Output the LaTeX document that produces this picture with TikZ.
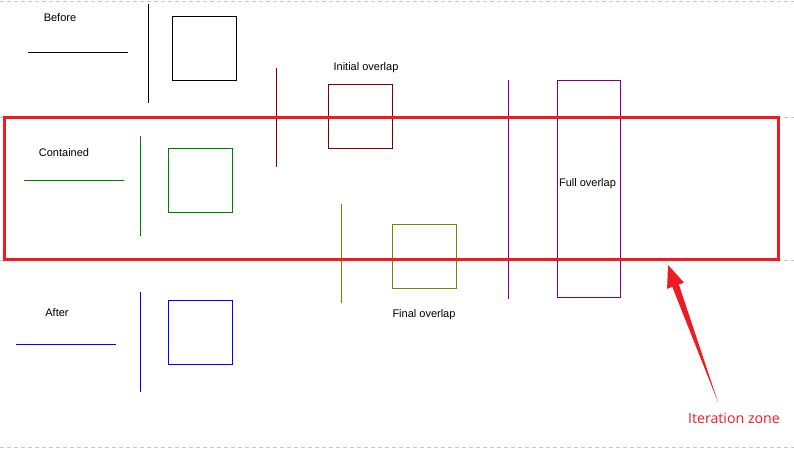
\documentclass[tikz,border=0pt]{standalone}
\usepackage{fontspec}
\setmainfont{Liberation Sans}
\newfontfamily\notefont{Open Sans}
\usetikzlibrary{calc}
\definecolor{zonered}{RGB}{237,28,36}
\definecolor{darkred}{RGB}{128,0,0}
\definecolor{darkgreen}{RGB}{0,128,0}
\definecolor{olivec}{RGB}{128,128,0}
\definecolor{purplec}{RGB}{128,0,128}
\tikzset{
caption/.style={inner sep=0pt,font=\fontsize{11}{13}\selectfont},
rangebox/.style={draw,inner sep=0pt,minimum width=64pt,minimum height=64pt},
guide/.style={draw=black!22,dash pattern=on 4pt off 3pt,line width=1pt},
zonebox/.style={draw=zonered,line width=3pt,inner sep=0pt,minimum width=774pt,minimum height=142pt}
}
\begin{document}
\begin{tikzpicture}[x=1pt,y=-1pt,line width=1pt]
\useasboundingbox (0,0) rectangle (794,448);
% guide lines
\foreach \gy in {1,117,260,447} \draw[guide] (0,\gy) -- (794,\gy);
% before
\node[caption] (lbefore) at (60,18) {Before};
\draw (28,52) -- (128,52);
\draw (148,4) -- (148,103);
\node[rangebox] (before) at (204.5,48) {};
% initial overlap
\node[caption] (linitial) at (366,68) {Initial overlap};
\draw[darkred] (276,68) -- (276,167);
\node[rangebox,draw=darkred] (initial) at (360,116) {};
% contained
\node[caption] (lcontained) at (64,153) {Contained};
\draw[darkgreen] (24,180) -- (124,180);
\draw[darkgreen] (140,136) -- (140,236);
\node[rangebox,draw=darkgreen] (contained) at (200,180) {};
% final overlap
\draw[olivec] (341,204) -- (341,303);
\node[rangebox,draw=olivec] (final) at (424,256) {};
\node[caption] (lfinal) at (424,315) {Final overlap};
% after
\node[caption] (lafter) at (57,313) {After};
\draw[blue] (16,344) -- (116,344);
\draw[blue] (140,292) -- (140,392);
\node[rangebox,draw=blue] (after) at (200,332) {};
% full overlap
\draw[purplec] (508,80) -- (508,299);
\node[rangebox,draw=purplec,minimum width=63pt,minimum height=217pt] (full) at (588.5,188.5) {};
\node[caption] (lfull) at (587.5,184) {Full overlap};
% iteration zone
\node[zonebox] (iter) at (391,188) {};
\coordinate (tip) at (668,265);
\coordinate (tail) at (718,402);
\coordinate (base) at ($(tip)!22pt!(tail)$);
\fill[zonered] (tip) -- ($(base)!9pt!90:(tail)$) -- ($(base)!3.5pt!90:(tail)$)
  -- (tail) -- ($(base)!3.5pt!-90:(tail)$) -- ($(base)!9pt!-90:(tail)$) -- cycle;
\node[text=zonered,inner sep=0pt,font=\notefont\fontsize{14.2}{16}\selectfont] (lzone) at (734,418) {Iteration zone};
\end{tikzpicture}
\end{document}
